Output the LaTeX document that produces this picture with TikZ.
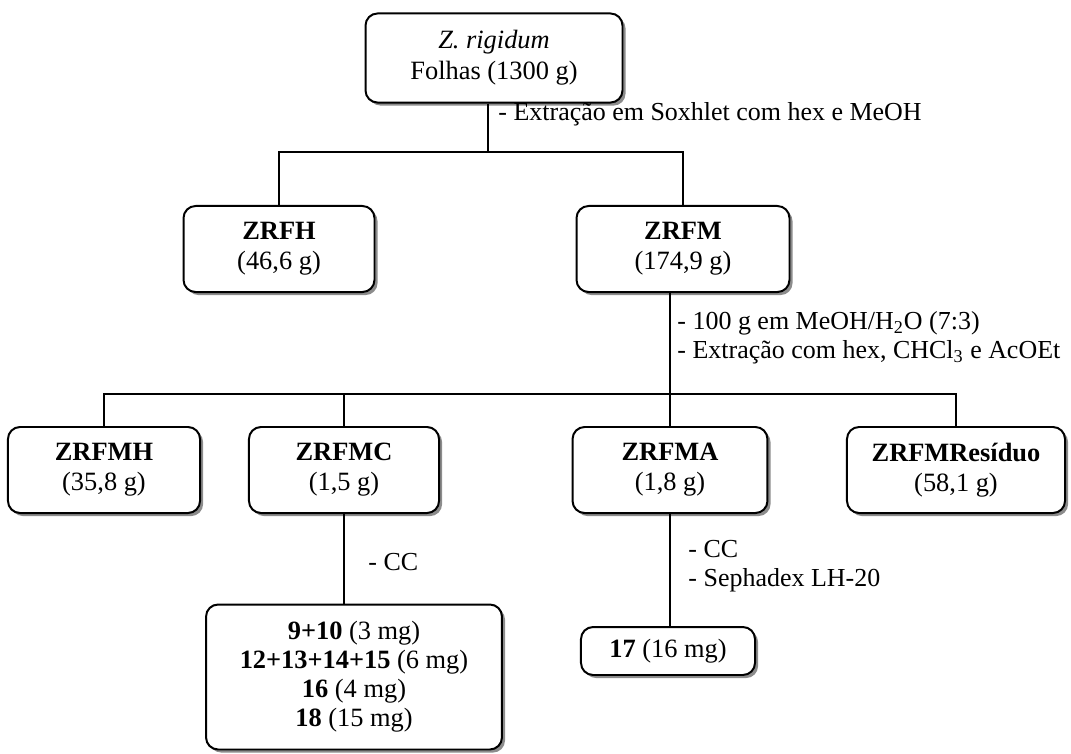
\documentclass[tikz,border=0pt]{standalone}
\usepackage{fontspec}
\setmainfont{Liberation Serif}
\usetikzlibrary{shadows}

\begin{document}
\begin{tikzpicture}[
    x=0.4545pt, y=-0.4545pt,
    box/.style={draw, rectangle, rounded corners=5.5pt, align=center, fill=white, line width=0.9pt, inner sep=0pt,
        font=\fontsize{12}{13.6}\selectfont, minimum height=39.1pt,
        drop shadow={shadow xshift=1.4pt, shadow yshift=-1.4pt, fill=black!45, opacity=1}},
    note/.style={anchor=west, align=left, inner sep=0pt, font=\fontsize{11.8}{13}\selectfont},
    link/.style={line width=0.9pt}
    ]
    \useasboundingbox (0,0) rectangle (1071,753);

    \node[box, minimum width=116.8pt, minimum height=40.5pt, font=\fontsize{12}{14.2}\selectfont] (plant) at (494,58) {\textit{Z. rigidum}\\Folhas (1300 g)};

    \node[box, minimum width=86.8pt] (zrfh) at (279,249) {\textbf{ZRFH}\\(46,6 g)};
    \node[box, minimum width=96.8pt] (zrfm) at (683,249) {\textbf{ZRFM}\\(174,9 g)};

    \node[box, minimum width=87.3pt] (zrfmh) at (104,470) {\textbf{ZRFMH}\\(35,8 g)};
    \node[box, minimum width=86.4pt] (zrfmc) at (344,470) {\textbf{ZRFMC}\\(1,5 g)};
    \node[box, minimum width=88.6pt] (zrfma) at (670,470) {\textbf{ZRFMA}\\(1,8 g)};
    \node[box, minimum width=99.1pt] (zrfmres) at (956,470) {\textbf{ZRFMResíduo}\\(58,1 g)};

    \node[box, minimum width=134.5pt, minimum height=65.9pt, font=\fontsize{12}{13.2}\selectfont] (frc) at (354,677)
        {\textbf{9+10} (3 mg)\\\textbf{12+13+14+15} (6 mg)\\\textbf{16} (4 mg)\\\textbf{18} (15 mg)};
    \node[box, minimum width=79.1pt, minimum height=21.8pt] (fra) at (668,651) {\textbf{17} (16 mg)};

    % etapas
    \node[note] (n1) at (498,114) {- Extração em Soxhlet com hex e MeOH};
    \node[note] (n2) at (677,338) {- 100 g em MeOH/H\textsubscript{2}O (7:3)\\- Extração com hex, CHCl\textsubscript{3} e AcOEt};
    \node[note] (n3) at (368,562) {- CC};
    \node[note] (n4) at (688,566) {- CC\\- Sephadex LH-20};

    \coordinate (j1) at (488,152);
    \coordinate (j2) at (670,394);

    \draw[link] (plant.south -| j1) -- (j1);
    \draw[link] (zrfh.north) |- (j1) -| (zrfm.north);
    \draw[link] (zrfm.south -| j2) -- (j2);
    \draw[link] (zrfmh.north) |- (j2) -| (zrfmres.north);
    \draw[link] (zrfmc.north) -- (zrfmc.north |- j2);
    \draw[link] (zrfma.north) -- (zrfma.north |- j2);
    \draw[link] (zrfmc.south) -- (zrfmc.south |- frc.north);
    \draw[link] (zrfma.south) -- (zrfma.south |- fra.north);
\end{tikzpicture}
\end{document}
